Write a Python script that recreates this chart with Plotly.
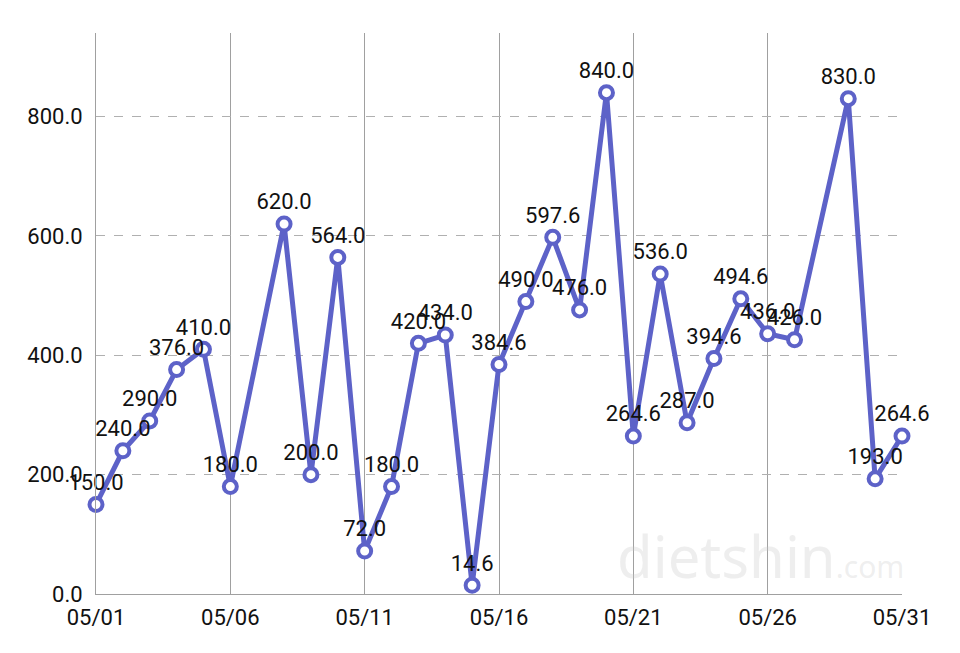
import plotly.graph_objects as go

dates = ["2024-05-01", "2024-05-02", "2024-05-03", "2024-05-04", "2024-05-05",
         "2024-05-06", "2024-05-08", "2024-05-09", "2024-05-10", "2024-05-11",
         "2024-05-12", "2024-05-13", "2024-05-14", "2024-05-15", "2024-05-16",
         "2024-05-17", "2024-05-18", "2024-05-19", "2024-05-20", "2024-05-21",
         "2024-05-22", "2024-05-23", "2024-05-24", "2024-05-25", "2024-05-26",
         "2024-05-27", "2024-05-29", "2024-05-30", "2024-05-31"]
values = [150.0, 240.0, 290.0, 376.0, 410.0,
          180.0, 620.0, 200.0, 564.0, 72.0,
          180.0, 420.0, 434.0, 14.6, 384.6,
          490.0, 597.6, 476.0, 840.0, 264.6,
          536.0, 287.0, 394.6, 494.6, 436.0,
          426.0, 830.0, 193.0, 264.6]
x_ticks = ["2024-05-01", "2024-05-06", "2024-05-11", "2024-05-16",
           "2024-05-21", "2024-05-26", "2024-05-31"]
x_tick_labels = ["05/01", "05/06", "05/11", "05/16", "05/21", "05/26", "05/31"]
y_ticks = [0, 200, 400, 600, 800]
y_tick_labels = ["0.0", "200.0", "400.0", "600.0", "800.0"]

line_color = "#5d62c8"
font_family = "Roboto, 'Noto Sans', sans-serif"

fig = go.Figure()
fig.add_trace(go.Scatter(
    x=dates, y=values,
    mode="lines+markers+text",
    line=dict(color=line_color, width=5),
    marker=dict(symbol="circle", size=13, color="white",
                line=dict(color=line_color, width=4)),
    text=[f"{v:.1f}" for v in values],
    textposition="top center",
    textfont=dict(family=font_family, size=22, color="#111111"),
    hoverinfo="skip",
    cliponaxis=False,
))

fig.add_annotation(
    text="dietshin<span style='font-size:30px'>.com</span>",
    xref="paper", yref="paper",
    x=1.005, y=-0.005, xanchor="right", yanchor="bottom",
    showarrow=False,
    font=dict(family="'Noto Sans', sans-serif", size=58, color="rgba(200,200,200,0.3)"),
)

fig.update_layout(
    width=960, height=653,
    margin=dict(l=96, r=58, t=33, b=59),
    paper_bgcolor="white", plot_bgcolor="white",
    showlegend=False,
    font=dict(family=font_family, size=22, color="#111111"),
    xaxis=dict(
        type="date",
        range=["2024-05-01", "2024-05-31"],
        tickvals=x_ticks, ticktext=x_tick_labels,
        showgrid=True, gridcolor="#a0a0a0", gridwidth=1,
        showline=True, linecolor="#a0a0a0", linewidth=1,
        ticks="", zeroline=False, ticklabelstandoff=4,
        tickfont=dict(family=font_family, size=22, color="#111111"),
    ),
    yaxis=dict(
        range=[0, 940],
        tickvals=y_ticks, ticktext=y_tick_labels,
        showgrid=True, gridcolor="#b0b0b0", gridwidth=1, griddash="dash",
        showline=True, linecolor="#a0a0a0", linewidth=1,
        ticks="", ticklabelstandoff=8, zeroline=False,
        tickfont=dict(family=font_family, size=22, color="#111111"),
    ),
)

fig.write_html("out.html")
